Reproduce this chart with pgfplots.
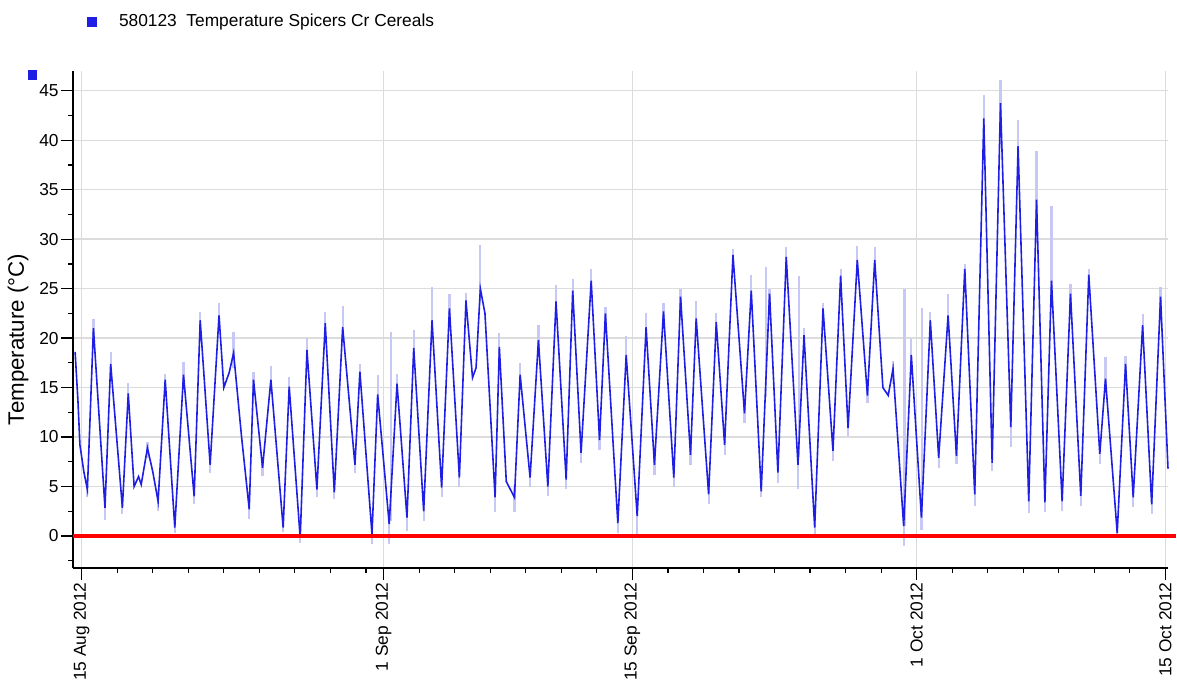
\documentclass[border=0pt]{standalone}
\usepackage{pgfplots}
\pgfplotsset{compat=1.18}
\usepackage{pgfplotstable}
\usepackage{fontspec}
\setmainfont{Liberation Sans}
\definecolor{myblue}{RGB}{30,30,228}
\definecolor{lav}{RGB}{200,200,246}
\definecolor{gridc}{RGB}{220,220,220}

\pgfplotstableread{
x y
-0.37 18.6
-0.21 13.6
-0.10 9.2
0.12 6.5
0.32 4.7
0.66 21.0
1.31 2.85
1.63 17.4
2.29 2.85
2.62 14.4
2.95 5.0
3.20 6.0
3.35 5.2
3.70 8.9
4.00 6.5
4.30 3.5
4.70 15.8
5.24 0.84
5.73 16.3
6.33 4.0
6.67 21.8
7.23 7.2
7.73 22.3
8.00 15.0
8.30 16.5
8.55 18.5
9.00 10.0
9.43 2.7
9.67 15.8
10.18 6.9
10.65 15.8
11.34 0.84
11.68 15.1
12.30 -0.2
12.68 18.8
13.24 4.7
13.71 21.5
14.22 4.4
14.69 21.1
15.38 7.2
15.66 16.6
16.34 0.17
16.66 14.3
17.31 1.2
17.75 15.4
18.31 1.85
18.69 19.0
19.25 2.5
19.72 21.8
20.26 4.9
20.70 23.0
21.26 5.9
21.63 23.8
22.00 16.0
22.20 17.0
22.44 25.0
22.70 22.5
23.27 3.9
23.51 19.1
23.90 5.5
24.36 3.9
24.68 16.3
25.24 5.9
25.71 19.8
26.24 5.0
26.70 23.7
27.27 5.7
27.64 24.8
28.11 8.4
28.68 25.8
29.15 9.7
29.48 22.5
30.18 1.3
30.65 18.3
31.27 2.0
31.77 21.1
32.24 7.2
32.75 22.7
33.33 5.9
33.71 24.2
34.27 8.2
34.59 22.0
35.29 4.2
35.72 21.6
36.19 9.2
36.66 28.4
37.31 12.4
37.69 24.8
38.25 4.5
38.72 24.5
39.19 6.4
39.66 28.2
40.32 7.2
40.66 20.3
41.26 0.84
41.73 23.0
42.29 8.6
42.72 26.3
43.14 10.9
43.66 27.9
44.23 14.2
44.64 27.9
45.10 15.0
45.40 14.2
45.67 16.9
46.27 1.0
46.70 18.3
47.27 1.85
47.77 21.8
48.24 7.9
48.77 22.3
49.24 8.1
49.71 27.0
50.27 4.2
50.78 42.2
51.25 7.4
51.72 43.75
52.30 11.0
52.71 39.4
53.31 3.5
53.75 34.0
54.22 3.4
54.59 25.8
55.19 3.5
55.66 24.5
56.24 4.05
56.69 26.4
57.31 8.3
57.63 15.9
58.29 0.3
58.76 17.4
59.19 3.9
59.72 21.3
60.23 3.2
60.73 24.2
61.15 6.8
}\bluedata

\pgfplotstableread{
x y ep em
0.66 21.0 0.9 1.5
1.63 17.4 1.2 1.5
2.62 14.4 1.1 1.5
3.70 8.9 0.6 1.0
4.70 15.8 0.6 1.5
5.73 16.3 1.3 1.5
6.67 21.8 0.8 1.5
7.73 22.3 1.2 1.5
8.55 18.5 2.1 1.5
9.67 15.8 0.8 1.5
10.65 15.8 1.4 1.5
11.68 15.1 1.0 1.5
12.68 18.8 1.2 1.5
13.71 21.5 1.1 1.5
14.69 21.1 2.1 1.5
15.66 16.6 0.8 1.5
16.66 14.3 2.0 1.5
17.75 15.4 1.0 1.5
18.69 19.0 1.8 1.5
19.72 21.8 3.4 1.5
20.70 23.0 1.5 1.5
21.63 23.8 0.8 1.5
22.44 25.0 4.4 1.5
23.51 19.1 1.4 1.5
24.68 16.3 1.2 1.5
25.71 19.8 1.5 1.5
26.70 23.7 1.7 1.5
27.64 24.8 1.2 1.5
28.68 25.8 1.2 1.5
29.48 22.5 0.6 1.5
30.65 18.3 1.9 1.5
31.77 21.1 1.4 1.5
32.75 22.7 0.8 1.5
33.71 24.2 0.8 1.5
34.59 22.0 1.8 1.5
35.72 21.6 0.9 1.5
36.66 28.4 0.6 1.5
37.69 24.8 1.6 1.5
38.72 24.5 0.5 1.5
39.66 28.2 1.0 1.5
40.66 20.3 0.7 1.5
41.73 23.0 0.5 1.5
42.72 26.3 0.7 1.5
43.66 27.9 1.4 1.5
44.64 27.9 1.3 1.5
45.67 16.9 0.8 1.5
46.70 18.3 1.6 1.5
47.77 21.8 0.8 1.5
48.77 22.3 2.2 1.5
49.71 27.0 0.5 2.0
50.78 42.2 2.4 3.0
51.72 43.75 2.35 3.0
52.71 39.4 2.6 3.0
53.75 34.0 4.9 3.0
54.59 25.8 7.6 2.0
55.66 24.5 1.0 1.5
56.69 26.4 0.6 1.5
57.63 15.9 2.2 1.5
58.76 17.4 0.8 1.5
59.72 21.3 1.1 1.5
60.73 24.2 1.0 1.5
0.32 4.7 1 0.8
1.31 2.85 1 1.2
2.29 2.85 1 0.6
4.30 3.5 1 1.0
5.24 0.84 1 0.5
6.33 4.0 1 0.8
7.23 7.2 1 0.8
9.43 2.7 1 1.0
10.18 6.9 1 0.8
11.34 0.84 1 0.4
12.30 -0.2 1 0.5
13.24 4.7 1 0.8
14.22 4.4 1 0.7
15.38 7.2 1 0.8
16.34 0.17 1 1.0
17.31 1.2 1 2.0
18.31 1.85 1 1.3
19.25 2.5 1 1.0
20.26 4.9 1 1.0
21.26 5.9 1 1.0
23.27 3.9 1 1.5
24.36 3.9 1 1.5
25.24 5.9 1 1.0
26.24 5.0 1 1.0
27.27 5.7 1 1.0
28.11 8.4 1 1.0
29.15 9.7 1 1.0
30.18 1.3 1 1.0
31.27 2.0 1 2.2
32.24 7.2 1 1.0
33.33 5.9 1 1.0
34.27 8.2 1 1.0
35.29 4.2 1 1.0
36.19 9.2 1 1.0
37.31 12.4 1 1.0
38.25 4.5 1 0.6
39.19 6.4 1 1.0
40.32 7.2 1 2.5
41.26 0.84 1 1.0
42.29 8.6 1 1.0
43.14 10.9 1 0.8
44.23 14.2 1 0.8
46.27 1.0 1 2.0
47.27 1.85 1 1.2
48.24 7.9 1 1.0
49.24 8.1 1 0.8
50.27 4.2 1 1.2
51.25 7.4 1 0.8
52.30 11.0 1 2.0
53.31 3.5 1 1.2
54.22 3.4 1 1.0
55.19 3.5 1 1.0
56.24 4.05 1 1.0
57.31 8.3 1 1.0
58.29 0.3 1 0.5
59.19 3.9 1 1.0
60.23 3.2 1 1.0
46.32 1.0 24.0 0
17.40 1.5 19.1 0
40.40 8.0 18.3 0
38.50 14.0 13.2 0
47.30 2.0 21.0 0
}\lavdata

\begin{document}
\begin{tikzpicture}
\begin{axis}[
  at={(0,0)}, anchor=south west,
  scale only axis, width=547.5bp, height=248.5bp,
  xmin=-0.49, xmax=61.15, ymin=-3.24, ymax=47.0,
  clip=false,
  axis x line*=bottom, axis y line*=left,
  axis line style={black, line width=0.7bp},
  xtick={0,17,31,47,61},
  xticklabels={15 Aug 2012, 1 Sep 2012, 15 Sep 2012, 1 Oct 2012, 15 Oct 2012},
  minor xtick={2,4,...,16,19,21,...,29,33,35,...,45,49,51,...,59},
  ytick={0,5,...,45},
  minor ytick={-2.5,2.5,7.5,...,42.5},
  tick align=outside,
  major tick length=6bp, minor tick length=2.5bp,
  every tick/.style={black, line width=0.6bp},
  xmajorgrids, ymajorgrids,
  grid style={gridc, line width=0.7bp},
  /pgf/number format/assume math mode=true,
  x tick label style={rotate=90, anchor=east, font=\fontsize{8.7}{10}\selectfont, inner sep=1bp},
  y tick label style={font=\fontsize{8.7}{10}\selectfont, inner sep=1bp},
  ylabel={Temperature (°C)},
  ylabel style={at={(axis description cs:-0.0502,0.46)}, anchor=center, font=\fontsize{11.2}{13}\selectfont},
  legend style={at={(axis description cs:0.0128,1.0986)}, anchor=west, draw=none, fill=none,
    inner sep=0pt, font=\fontsize{8.7}{10}\selectfont, legend cell align=left,
    nodes={inner sep=0pt},
    /tikz/every odd column/.append style={column sep=11bp}},
  legend image code/.code={\fill[myblue] (0bp,-2bp) rectangle (4bp,2bp);},
]
\addplot[draw=none, mark=none, forget plot,
  error bars/.cd, y dir=both, y explicit, error mark=none,
  error bar style={draw=lav, line width=1.1bp}]
  table[x=x, y=y, y error plus=ep, y error minus=em] {\lavdata};
\addplot[myblue, line width=0.8bp, mark=none] table[x=x, y=y] {\bluedata};
\addlegendentry{580123\ \ Temperature Spicers Cr Cereals}
\addplot[red, line width=2bp, mark=none, forget plot] coordinates {(-0.49,0) (61.6,0)};
\fill[myblue] (axis description cs:-0.0411,0.9819) rectangle (axis description cs:-0.0329,1.002);
\end{axis}
\pgfresetboundingbox
\path[use as bounding box] (-36.5bp,-58bp) rectangle (552bp,284bp);
\end{tikzpicture}
\end{document}
